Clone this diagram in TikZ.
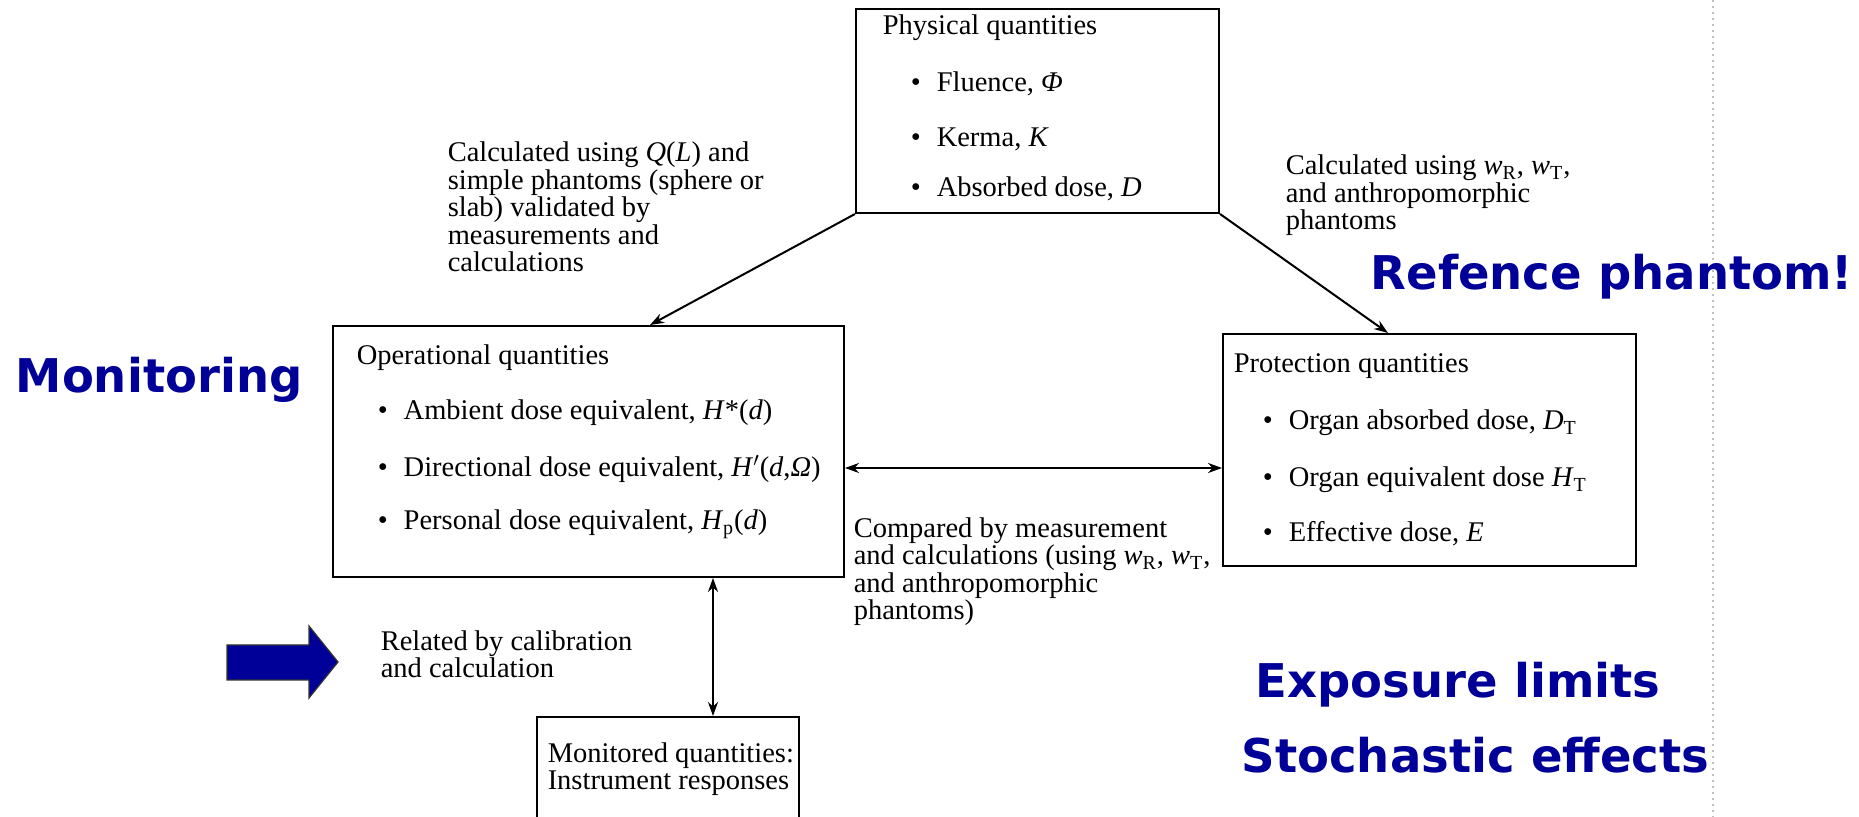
\documentclass[tikz,border=0pt]{standalone}
\usepackage{fontspec}
\setmainfont{Liberation Serif}
\newfontfamily\slidefont{DejaVu Sans}
\usetikzlibrary{arrows.meta}
\definecolor{slideblue}{RGB}{0,0,153}
\newcommand\bodysize{\fontsize{14.25pt}{13.75pt}\selectfont}
\newcommand\itm{\makebox[13pt][l]{\textbullet}}

\tikzset{every picture/.style={line width=0.75pt}}

\begin{document}
\begin{tikzpicture}[x=0.5pt,y=0.5pt,yscale=-1,
	box/.style={draw, line width=1pt, anchor=north west, inner sep=0pt},
	txt/.style={anchor=base west, inner sep=0pt, align=left, font=\bodysize},
	slide/.style={anchor=base west, inner sep=0pt, text=slideblue, font=\slidefont\bfseries\fontsize{23.25pt}{28pt}\selectfont},
	conn/.style={line width=1pt, -{Stealth[length=7pt,width=5pt]}},
	dconn/.style={line width=1pt, {Stealth[length=7pt,width=5pt]}-{Stealth[length=7pt,width=5pt]}}]
	\useasboundingbox (0,0) rectangle (1859,817);
	\clip (0,0) rectangle (1859,817);

	%scan edge
	\draw [black!25, dotted, line width=1pt] (1713,0) -- (1713,817);

	%Boxes
	\node [box, minimum width=181.5pt, minimum height=102pt] (phys) at (855,8) {};
	\node [box, minimum width=255.5pt, minimum height=125.5pt] (oper) at (332,325) {};
	\node [box, minimum width=206.5pt, minimum height=116pt] (prot) at (1222,333) {};
	\node [box, minimum width=131pt, minimum height=72pt] (mon) at (536,716) {};

	% Physical quantities
	\node [txt] (physhead) at (882,35) {Physical quantities};
	\node [txt] (fluence) at (910,92) {\itm Fluence, \textit{Φ}};
	\node [txt] (kerma) at (910,147) {\itm Kerma, \textit{K}};
	\node [txt] (absdose) at (910,197) {\itm Absorbed dose, \textit{D}};

	% Operational quantities
	\node [txt] (ophead) at (356,365) {Operational quantities};
	\node [txt] (opamb) at (377,420) {\itm Ambient dose equivalent, \textit{H}*(\textit{d})};
	\node [txt] (opdir) at (377,477) {\itm Directional dose equivalent, \textit{H}$'$(\textit{d},\textit{Ω})};
	\node [txt] (oppers) at (377,530) {\itm Personal dose equivalent, \textit{H}\textsubscript{p}(\textit{d})};

	% Protection quantities
	\node [txt] (prhead) at (1233,373) {Protection quantities};
	\node [txt] (prorg) at (1262,430) {\itm Organ absorbed dose, \textit{D}\textsubscript{T}};
	\node [txt] (preq) at (1262,487) {\itm Organ equivalent dose \textit{H}\textsubscript{T}};
	\node [txt] (preff) at (1262,542) {\itm Effective dose, \textit{E}};

	% Monitored quantities (base = last line)
	\node [txt] (monlbl) at (547,790) {Monitored quantities:\\Instrument responses};

	% Connector labels
	\node [txt] (calcop) at (447,272) {Calculated using \textit{Q}(\textit{L}) and\\simple phantoms (sphere or\\slab) validated by\\measurements and\\calculations};
	\node [txt] (calcpr) at (1285,230) {Calculated using \textit{w}\textsubscript{R}, \textit{w}\textsubscript{T},\\and anthropomorphic\\phantoms};
	\node [txt] (compared) at (853,620) {Compared by measurement\\and calculations (using \textit{w}\textsubscript{R}, \textit{w}\textsubscript{T},\\and anthropomorphic\\phantoms)};
	\node [txt] (related) at (380,678) {Related by calibration\\and calculation};

	% Connectors
	\coordinate (lefttip) at (650,0);
	\coordinate (righttip) at (1388,0);
	\coordinate (cmpy) at (0,468);
	\coordinate (calx) at (713,0);
	\draw [conn] (phys.south west) -- (oper.north -| lefttip);
	\draw [conn] (phys.south east) -- (prot.north -| righttip);
	\draw [dconn] (oper.east |- cmpy) -- (prot.west |- cmpy);
	\draw [dconn] (oper.south -| calx) -- (mon.north -| calx);

	% Slide notes
	\node [slide] (monit) at (15,393) {Monitoring};
	\node [slide] (refph) at (1370,290) {Refence phantom!};
	\node [slide] (explim) at (1255,698) {Exposure limits};
	\node [slide] (stoch) at (1241,772) {Stochastic effects};
	\draw [draw=black!80, line width=0.6pt, fill=slideblue] (227,645) -- (309,645) -- (309,626) -- (338,662) -- (309,698) -- (309,680) -- (227,680) -- cycle;

\end{tikzpicture}
\end{document}
